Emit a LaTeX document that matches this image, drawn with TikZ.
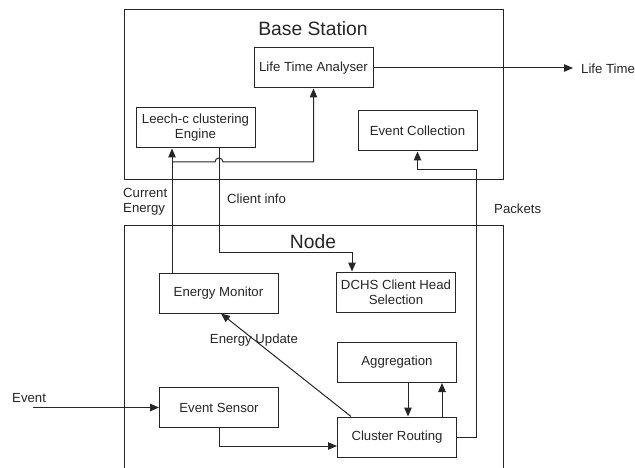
\documentclass[tikz,border=0pt]{standalone}
\usepackage{fontspec}
\setmainfont{Liberation Sans}
\usetikzlibrary{arrows.meta}
\begin{document}
\begin{tikzpicture}[x=1pt,y=-1pt,
  every node/.style={text=black!85},
  box/.style={draw=black!85, line width=1pt, minimum width=119pt, minimum height=40pt, inner sep=0pt, align=center, font=\fontsize{13.2}{15}\selectfont},
  lbl/.style={font=\fontsize{13.2}{15}\selectfont, inner sep=0pt},
  ttl/.style={font=\fontsize{19.3}{22}\selectfont, inner sep=0pt},
  conn/.style={draw=black!85, line width=1pt},
  arr/.style={conn, -{Triangle[length=9pt,width=7.5pt]}},
]
\useasboundingbox (0,0) rectangle (635,468);
% containers
\draw[conn] (124,10) rectangle (503,180);
\draw[conn] (124,468) -- (124,225) -- (503,225) -- (503,468);
\node[ttl] (bst) at (313,29) {Base Station};
\node[ttl] (nt) at (313,242) {Node};
% boxes
\node[box] (lta) at (313.5,68) {Life Time Analyser};
\node[box] (leech) at (195.5,128) {Leech-c clustering\\Engine};
\node[box] (ec) at (417.5,131) {Event Collection};
\node[box] (em) at (218.5,293) {Energy Monitor};
\node[box] (dchs) at (396,292) {DCHS Client Head\\Selection};
\node[box] (agg) at (397,362.5) {Aggregation};
\node[box] (es) at (219,407.5) {Event Sensor};
\node[box] (cr) at (397,437) {Cluster Routing};
% life time
\coordinate (lt) at (573,68);
\draw[arr] (lta.east) -- (lt);
\node[lbl, anchor=west] (ltl) at (581,69) {Life Time};
% current energy
\coordinate (ce) at (172,162);
\draw[arr] (em.north -| ce) -- (leech.south -| ce);
\coordinate (hopa) at (215,162);
\draw[arr] (ce) -- (hopa) arc[start angle=180, end angle=0, radius=4pt] -- (lta.south |- ce) -- (lta.south);
% client info
\coordinate (cia) at (219,252);
\coordinate (cib) at (352,252);
\draw[arr] (leech.south -| cia) -- (cia) -- (cib) -- (dchs.north -| cib);
% energy update
\coordinate (eua) at (351,417);
\coordinate (eub) at (221,313);
\draw[arr] (cr.north -| eua) -- (em.south -| eub);
% aggregation
\coordinate (ad) at (408,0);
\coordinate (au) at (442,0);
\draw[arr] (agg.south -| ad) -- (cr.north -| ad);
\draw[arr] (cr.north -| au) -- (agg.south -| au);
% event
\coordinate (ev) at (33,407.5);
\draw[arr] (ev) -- (es.west);
\node[lbl, anchor=west] (evl) at (12,398) {Event};
% sensor to routing
\coordinate (sc) at (219,446);
\draw[arr] (es.south) -- (es.south |- sc) -- (cr.west |- sc);
% packets
\coordinate (pa) at (476,437);
\coordinate (pb) at (476,170);
\draw[arr] (cr.east) -- (pa) -- (pb) -- (ec.south |- pb) -- (ec.south);
% labels
\node[lbl, anchor=west, align=left] (cel) at (123,202) {Current\\Energy};
\node[lbl, anchor=west] (cil) at (227,199) {Client info};
\node[lbl, anchor=west] (pkl) at (494,209) {Packets};
\node[lbl] (eul) at (254,340) {Energy Update};
\end{tikzpicture}
\end{document}
